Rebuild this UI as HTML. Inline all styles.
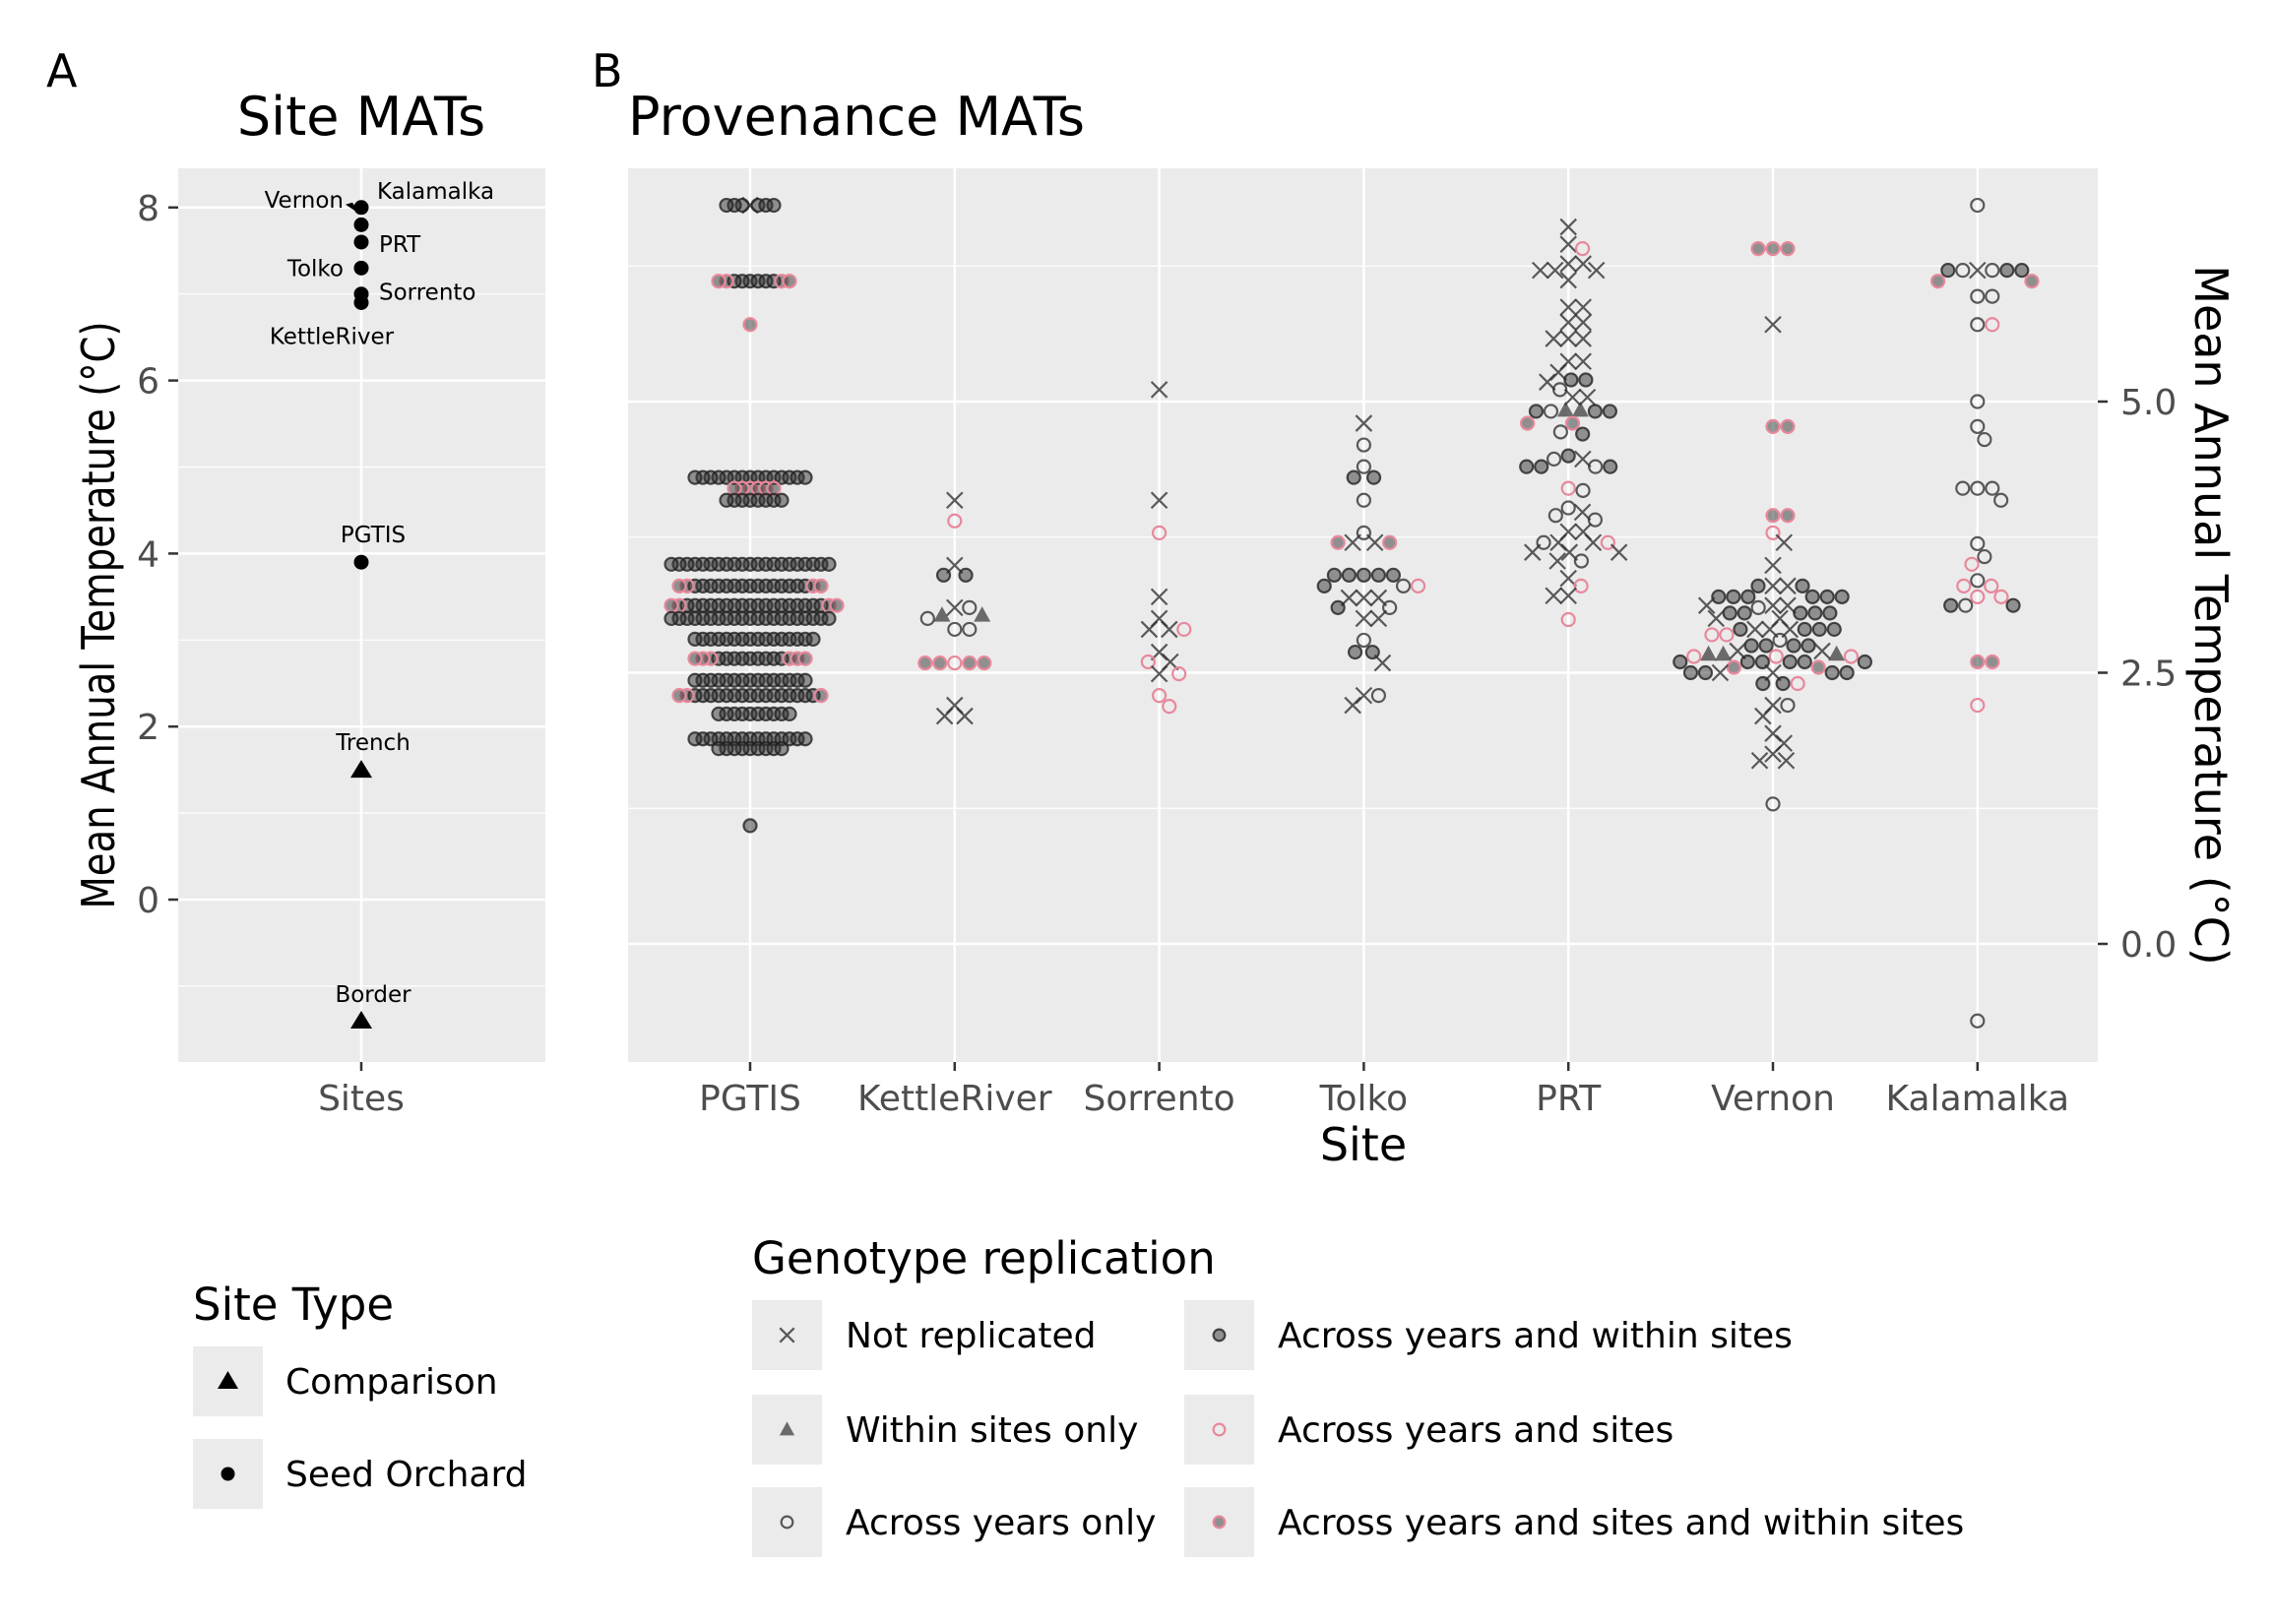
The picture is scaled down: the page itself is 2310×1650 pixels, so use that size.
<!DOCTYPE html>
<html><head><meta charset="utf-8">
<style>
html,body{margin:0;padding:0;background:#fff;}
svg{display:block;font-family:"DejaVu Sans","Liberation Sans",sans-serif;}
</style></head>
<body>
<svg id="chart" width="2310" height="1650" viewBox="0 0 2310 1650" xmlns="http://www.w3.org/2000/svg">
  <rect x="0" y="0" width="2310" height="1650" fill="#fff"/>
  <text x="47" y="88" font-size="46" fill="#000">A</text>
  <text x="601" y="88" font-size="46" fill="#000">B</text>
  <text x="367" y="137" font-size="54" text-anchor="middle" fill="#000">Site MATs</text>
  <text x="638" y="137" font-size="54" fill="#000">Provenance MATs</text>

  <rect x="181" y="171" width="373" height="908" fill="#EBEBEB"/>
  <g id="gA"></g>
  <g id="ptsA"></g>
  <text transform="translate(116,625) rotate(-90)" font-size="46" text-anchor="middle" textLength="597" lengthAdjust="spacingAndGlyphs" fill="#000">Mean Annual Temperature (°C)</text>
  <text x="367" y="1128" font-size="36" text-anchor="middle" fill="#4D4D4D">Sites</text>
  <line x1="367" y1="1079" x2="367" y2="1088" stroke="#333" stroke-width="2.5"/>

  <rect x="638" y="171" width="1493" height="908" fill="#EBEBEB"/>
  <g id="gB"></g>
  <g id="ptsB"></g>
  <text x="1385" y="1179" font-size="46" text-anchor="middle" fill="#000">Site</text>
  <text transform="translate(2230,625) rotate(90)" font-size="46" text-anchor="middle" fill="#000">Mean Annual Temperature (°C)</text>

  <g>
    <text x="196" y="1341" font-size="45" fill="#000">Site Type</text>
    <g>
      <rect x="196" y="1368" width="71" height="71" fill="#EBEBEB"/>
      <polygon points="231.5,1393 242,1411 221,1411" fill="#000"/>
      <text x="290" y="1416" font-size="36" fill="#000">Comparison</text>
    </g>
    <g>
      <rect x="196" y="1462" width="71" height="71" fill="#EBEBEB"/>
      <circle cx="231.5" cy="1497.5" r="7" fill="#000"/>
      <text x="290" y="1510" font-size="36" fill="#000">Seed Orchard</text>
    </g>
  </g>
  <g id="legG">
    <text x="764" y="1294" font-size="45" fill="#000">Genotype replication</text>
  </g>
</svg>
<script>
// ---------- data ----------
const siteNames = ["PGTIS","KettleRiver","Sorrento","Tolko","PRT","Vernon","Kalamalka"];
const panelATicks = [0,2,4,6,8];
const panelBTicks = [0,2.5,5];
const panelBTickLabels = ["0.0","2.5","5.0"];
const siteMatNames = ["Vernon","Kalamalka","Vernon2","PRT","Tolko","Sorrento","KettleRiver","PGTIS","Trench","Border"];
const siteMatValues = [8.0,8.0,7.8,7.6,7.3,7.0,6.9,3.9,1.5,-1.4];
const siteMatType = ["C","S","S","S","S","S","S","S","C","C"];
const typeNames = ["Not replicated","Within sites only","Across years only","Across years and within sites","Across years and sites","Across years and sites and within sites"];
// each array: [siteIndex, value, count]
const notReplicated = [[0,6.81,1],
 [1,4.09,1],[1,3.49,1],[1,3.10,1],[1,2.10,2],[1,2.20,1],
 [2,5.11,1],[2,4.09,1],[2,3.20,1],[2,2.90,2],[2,3.0,1],[2,2.60,1],[2,2.69,1],[2,2.49,1],
 [3,4.80,1],[3,3.70,2],[3,3.19,3],[3,3.0,2],[3,2.59,1],[3,2.29,1],[3,2.20,1],
 [4,6.61,1],[4,6.45,1],[4,6.27,2],[4,6.21,3],[4,6.12,1],[4,5.87,2],[4,5.73,2],[4,5.58,3],[4,5.37,2],[4,5.27,1],[4,5.18,1],[4,5.04,2],[4,4.47,1],[4,3.98,1],[4,3.80,2],[4,3.70,2],[4,3.61,3],[4,3.53,1],[4,3.37,1],[4,3.21,2],
 [5,5.71,1],[5,3.70,1],[5,3.49,1],[5,3.30,2],[5,3.12,3],[5,3.0,2],[5,2.90,3],[5,2.70,2],[5,2.50,2],[5,2.20,1],[5,2.10,1],[5,1.94,1],[5,1.85,1],[5,1.75,1],[5,1.69,2],
 [6,6.21,1]];
const withinSites = [[1,3.03,2],[4,4.92,2],[5,2.67,3]];
const acrossYears = [[1,2.90,2],[1,3.10,1],[1,3.0,1],
 [3,4.60,1],[3,4.40,1],[3,4.09,1],[3,3.79,1],[3,3.30,1],[3,3.10,1],[3,2.80,1],[3,2.29,1],
 [4,5.11,1],[4,4.91,1],[4,4.72,1],[4,4.47,1],[4,4.40,1],[4,4.18,1],[4,4.02,1],[4,3.95,1],[4,3.91,1],[4,3.70,1],[4,3.53,1],
 [5,3.10,1],[5,2.80,1],[5,2.20,1],[5,1.29,1],
 [6,6.81,1],[6,6.21,2],[6,5.97,2],[6,5.71,1],[6,5.0,1],[6,4.77,1],[6,4.65,1],[6,4.20,3],[6,4.09,1],[6,3.69,1],[6,3.57,1],[6,3.35,1],[6,3.12,1],[6,-0.71,1]];
const acrossYearsWithin = [[0,6.81,6],[0,6.11,6],[0,4.30,15],[0,4.09,8],[0,3.50,21],[0,3.30,15],[0,3.12,18],[0,3.0,21],[0,2.81,16],[0,2.63,9],[0,2.43,15],[0,2.29,16],[0,2.12,10],[0,1.89,15],[0,1.80,9],[0,1.09,1],
 [1,3.40,2],
 [3,4.30,2],[3,3.40,5],[3,3.30,1],[3,3.10,1],[3,2.69,2],
 [4,5.20,2],[4,4.91,3],[4,4.70,1],[4,4.50,1],[4,4.40,3],
 [5,3.30,2],[5,3.20,6],[5,3.05,5],[5,2.90,4],[5,2.75,4],[5,2.60,6],[5,2.50,4],[5,2.40,2],
 [6,6.21,3],[6,3.12,2]];
const acrossYearsSites = [[1,3.90,1],[1,2.59,1],
 [2,3.79,1],[2,2.90,1],[2,2.49,1],[2,2.29,1],[2,2.19,1],[2,2.60,1],
 [3,3.30,1],
 [4,6.41,1],[4,4.20,1],[4,3.70,1],[4,3.30,1],[4,2.99,1],
 [5,3.79,1],[5,2.85,2],[5,2.65,3],[5,2.40,1],
 [6,5.71,1],[6,3.50,1],[6,3.30,2],[6,3.20,2],[6,2.20,1]];
const acrossYearsSitesWithin = [[0,6.11,4],[0,5.71,1],[0,4.20,6],[0,3.30,4],[0,3.12,4],[0,2.63,6],[0,2.29,3],
 [1,2.59,4],
 [3,3.70,2],
 [4,4.80,2],
 [5,6.41,3],[5,4.77,2],[5,3.95,2],[5,2.55,2],
 [6,6.11,2],[6,2.60,2]];

// ---------- scales ----------
const NS="http://www.w3.org/2000/svg";
function mk(tag,attrs,parent){const e=document.createElementNS(NS,tag);for(const k in attrs)e.setAttribute(k,attrs[k]);parent.appendChild(e);return e;}
const yA=v=>914-v*87.9;
const yB=v=>959-v*110.2;
const xB=i=>762+i*207.8;
const gA=document.getElementById('gA'), gB=document.getElementById('gB');

[-1,1,3,5,7].forEach(v=>{const l=mk('line',{x1:181,x2:554,y1:yA(v),y2:yA(v),stroke:'#fff','stroke-width':1.2},gA);

});
panelATicks.forEach(v=>{const l=mk('line',{x1:181,x2:554,y1:yA(v),y2:yA(v),stroke:'#fff','stroke-width':2.5},gA);


const t=mk('line',{x1:171,x2:181,y1:yA(v),y2:yA(v),stroke:'#333','stroke-width':2.5},gA);


const tx=mk('text',{x:162,y:yA(v)+13,'font-size':36,'text-anchor':'end',fill:'#4D4D4D'},gA);tx.textContent=v;

});
{const l=mk('line',{x1:367,x2:367,y1:171,y2:1079,stroke:'#fff','stroke-width':2.5},gA);

}

[1.25,3.75,6.25].forEach(v=>{const l=mk('line',{x1:638,x2:2131,y1:yB(v),y2:yB(v),stroke:'#fff','stroke-width':1.2},gB);

});
panelBTicks.forEach((v,i)=>{const l=mk('line',{x1:638,x2:2131,y1:yB(v),y2:yB(v),stroke:'#fff','stroke-width':2.5},gB);


const t=mk('line',{x1:2131,x2:2141,y1:yB(v),y2:yB(v),stroke:'#333','stroke-width':2.5},gB);


const tx=mk('text',{x:2154,y:yB(v)+13,'font-size':36,fill:'#4D4D4D'},gB);tx.textContent=panelBTickLabels[i];

});
siteNames.forEach((s,i)=>{const l=mk('line',{x1:xB(i),x2:xB(i),y1:171,y2:1079,stroke:'#fff','stroke-width':2.5},gB);


const t=mk('line',{x1:xB(i),x2:xB(i),y1:1079,y2:1088,stroke:'#333','stroke-width':2.5},gB);


const tx=mk('text',{x:xB(i),y:1128,'font-size':36,'text-anchor':'middle',fill:'#4D4D4D'},gB);tx.textContent=s;

});

// ---------- markers ----------
const PINK='#E8889B';
function marker(type,cx,cy,parent,scale){
  const sc=scale||1, r=6.5*sc, rx=8*sc;
  let e;
  if(type===0){e=mk('path',{d:`M${cx-rx} ${cy-rx}L${cx+rx} ${cy+rx}M${cx-rx} ${cy+rx}L${cx+rx} ${cy-rx}`,stroke:'#333','stroke-width':2.2,'stroke-opacity':0.8,fill:'none'},parent);}
  else if(type===1){e=mk('polygon',{points:`${cx},${cy-9*sc} ${cx+8.5*sc},${cy+6.5*sc} ${cx-8.5*sc},${cy+6.5*sc}`,fill:'#333','fill-opacity':0.7},parent);}
  else if(type===2){e=mk('circle',{cx,cy,r,fill:'none',stroke:'#333','stroke-opacity':0.8,'stroke-width':2.2},parent);}
  else if(type===3){e=mk('circle',{cx,cy,r,fill:'#333','fill-opacity':0.5,stroke:'#222','stroke-opacity':0.8,'stroke-width':2.2},parent);}
  else if(type===4){e=mk('circle',{cx,cy,r,fill:'none',stroke:PINK,'stroke-width':2.2},parent);}
  else {e=mk('circle',{cx,cy,r,fill:'#333','fill-opacity':0.5,stroke:PINK,'stroke-width':2.2},parent);}
  return e;
}

// ---------- panel B beeswarm ----------
const ptsB=document.getElementById('ptsB');
const series=[notReplicated,withinSites,acrossYears,acrossYearsWithin,acrossYearsSites,acrossYearsSitesWithin];
siteNames.forEach((s,si)=>{
  const D = si===0 ? 8 : 15;
  let pts=[];
  series.forEach((arr,ti)=>arr.forEach(([i,v,c])=>{if(i===si)for(let k=0;k<c;k++)pts.push({v,t:ti});}));
  pts.sort((a,b)=>b.v-a.v);
  const placed=[];
  pts.forEach(p=>{
    const y=yB(p.v);
    const cands=[0];
    placed.forEach(q=>{const dy=Math.abs(q.y-y);if(dy<D){const dx=Math.sqrt(D*D-dy*dy);cands.push(q.x+dx,q.x-dx);}});
    cands.sort((a,b)=>Math.abs(a)-Math.abs(b));
    let x=0;
    for(const c of cands){let ok=true;for(const q of placed){const dx=q.x-c,dy=q.y-y;if(dx*dx+dy*dy<D*D-0.01){ok=false;break;}}if(ok){x=c;break;}}
    placed.push({x,y,t:p.t});
  });
  placed.forEach(q=>{
    const e=marker(q.t,xB(si)+q.x,q.y,ptsB);
    
    
  });
});

// ---------- panel A ----------
const ptsA=document.getElementById('ptsA');
const labelOffsets={Vernon:[-18,0,'end'],Kalamalka:[16,-9,'start'],PRT:[18,10,'start'],Tolko:[-18,8,'end'],Sorrento:[18,6,'start'],KettleRiver:[-30,42,'middle'],PGTIS:[12,-20,'middle'],Trench:[12,-20,'middle'],Border:[12,-19,'middle']};
siteMatNames.forEach((n,i)=>{
  const y=yA(siteMatValues[i]);
  let e;
  if(siteMatType[i]==='C' && n==='Vernon'){e=mk('polygon',{points:`358,${y-5} 366,${y+7} 351,${y-3}`,fill:'#000'},ptsA);}
  else if(siteMatType[i]==='C'){e=mk('polygon',{points:`367,${y-10} 378,${y+8} 356,${y+8}`,fill:'#000'},ptsA);}
  else {e=mk('circle',{cx:367,cy:y,r:7.5,fill:'#000'},ptsA);}
  
  
  const o=labelOffsets[n];
  if(o){const t=mk('text',{x:367+o[0],y:y+o[1],'font-size':23,'text-anchor':o[2],fill:'#000'},ptsA);t.textContent=n;
    
    }
});

// ---------- genotype legend ----------
const legG=document.getElementById('legG');
const legPos=[[764,1321],[764,1417],[764,1511],[1203,1321],[1203,1417],[1203,1511]];
typeNames.forEach((n,i)=>{
  const [x,y]=legPos[i];
  const g=mk('g',{},legG);
  
  
  const r=mk('rect',{x,y,width:71,height:71,fill:'#EBEBEB'},g);
  
  
  const m=marker(i,x+35.5,y+35.5,g,0.9);
  
  
  const t=mk('text',{x:x+95,y:y+48,'font-size':36,fill:'#000'},g);t.textContent=n;
  
  
});
</script>
</body></html>
